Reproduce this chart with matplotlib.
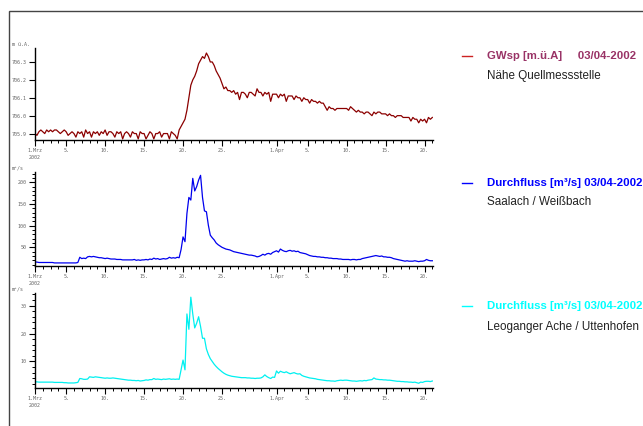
import numpy as np
import pandas as pd
import matplotlib
matplotlib.use('Agg')
import matplotlib.pyplot as plt
import matplotlib.dates as mdates
from matplotlib.ticker import FixedLocator, MultipleLocator
from matplotlib.patches import Rectangle

# 6-hourly values, 1 Mar 2002 00:00 .. 21 Apr 2002 00:00
times = pd.date_range('2002-03-01', periods=205, freq='6h')

# GWsp [m ü.A.], Nähe Quellmessstelle
gwsp = [
    705.90, 705.89, 705.91, 705.92,  705.91, 705.90, 705.92, 705.91,
    705.92, 705.91, 705.92, 705.92,  705.91, 705.90, 705.91, 705.92,
    705.91, 705.89, 705.90, 705.91,  705.90, 705.88, 705.91, 705.90,
    705.91, 705.88, 705.92, 705.90,  705.91, 705.88, 705.91, 705.90,
    705.91, 705.89, 705.91, 705.90,  705.92, 705.89, 705.91, 705.91,
    705.90, 705.88, 705.91, 705.90,  705.91, 705.87, 705.90, 705.91,
    705.90, 705.88, 705.91, 705.90,  705.90, 705.87, 705.91, 705.90,
    705.90, 705.87, 705.89, 705.91,  705.90, 705.87, 705.90, 705.90,
    705.91, 705.88, 705.90, 705.90,  705.90, 705.87, 705.91, 705.90,
    705.89, 705.87, 705.92, 705.94,  705.96, 705.98, 706.03, 706.10,
    706.17, 706.20, 706.22, 706.25,  706.29, 706.31, 706.33, 706.32,
    706.35, 706.33, 706.30, 706.30,  706.28, 706.25, 706.23, 706.21,
    706.18, 706.15, 706.16, 706.14,  706.14, 706.13, 706.14, 706.12,
    706.13, 706.09, 706.13, 706.13,  706.12, 706.10, 706.13, 706.13,
    706.12, 706.11, 706.15, 706.13,  706.13, 706.11, 706.13, 706.12,
    706.13, 706.08, 706.12, 706.12,  706.12, 706.10, 706.12, 706.11,
    706.12, 706.08, 706.11, 706.11,  706.11, 706.09, 706.11, 706.10,
    706.10, 706.08, 706.10, 706.09,  706.09, 706.07, 706.09, 706.08,
    706.08, 706.07, 706.08, 706.07,  706.07, 706.05, 706.03, 706.05,
    706.04, 706.04, 706.03, 706.04,  706.04, 706.04, 706.04, 706.04,
    706.04, 706.03, 706.05, 706.04,  706.03, 706.02, 706.03, 706.02,
    706.02, 706.01, 706.02, 706.02,  706.01, 706.00, 706.02, 706.01,
    706.02, 706.02, 706.01, 706.01,  706.01, 706.00, 706.01, 706.00,
    706.00, 705.99, 706.00, 706.00,  706.00, 705.99, 705.99, 705.99,
    705.99, 705.97, 705.99, 705.98,  705.98, 705.96, 705.98, 705.97,
    705.98, 705.96, 705.99, 705.98,  705.99,
]

# Durchfluss [m3/s], Saalach / Weißbach
q_saalach = [
    16, 16, 15, 15,  15, 15, 15, 15,  15, 15, 14, 14,  14, 14, 14, 14,
    14, 14, 14, 14,  14, 14, 15, 27,  24, 25, 24, 28,  29, 28, 29, 28,
    27, 26, 26, 25,  24, 25, 24, 23,  23, 23, 22, 22,  22, 21, 21, 21,
    21, 21, 21, 22,  20, 21, 20, 21,  21, 22, 21, 23,  22, 25, 23, 24,
    22, 23, 24, 23,  24, 27, 25, 26,  25, 27, 26, 45,  74, 63, 128, 165,
    159, 209, 180, 190,  205, 216, 165, 134,  132, 101, 78, 72,
    67, 60, 56, 53,  50, 48, 46, 45,  44, 42, 40, 39,  38, 37, 36, 35,
    34, 33, 32, 32,  31, 30, 28, 29,  31, 34, 32, 35,  36, 34, 38, 40,
    42, 39, 46, 43,  41, 40, 42, 43,  41, 42, 40, 41,  38, 37, 36, 35,
    33, 31, 30, 29,  29, 28, 28, 27,  27, 26, 26, 25,  25, 24, 24, 24,
    23, 23, 22, 22,  22, 22, 21, 22,  22, 21, 22, 22,  24, 25, 26, 27,
    28, 29, 30, 31,  30, 29, 30, 28,  28, 27, 27, 26,  24, 23, 22, 21,
    20, 19, 18, 19,  18, 18, 18, 19,  18, 17, 18, 18,  19, 22, 20, 19,
    19,
]

# Durchfluss [m3/s], Leoganger Ache / Uttenhofen
q_leogang = [
    2.7, 2.7, 2.6, 2.6,  2.6, 2.6, 2.6, 2.6,  2.6, 2.6, 2.5, 2.5,
    2.5, 2.5, 2.5, 2.4,  2.4, 2.3, 2.3, 2.3,  2.3, 2.4, 2.5, 3.9,
    3.8, 3.6, 3.6, 3.7,  4.5, 4.4, 4.3, 4.5,  4.4, 4.3, 4.2, 4.1,
    4.0, 4.1, 4.0, 4.0,  4.1, 4.0, 3.9, 3.8,  3.7, 3.6, 3.5, 3.4,
    3.3, 3.3, 3.2, 3.2,  3.1, 3.2, 3.0, 3.1,  3.2, 3.4, 3.3, 3.5,
    3.5, 3.9, 3.6, 3.7,  3.6, 3.5, 3.7, 3.6,  3.7, 3.8, 3.6, 3.7,
    3.6, 3.7, 3.6, 7.0,  10.5, 7.0, 27.0, 21.5,  33.0, 27.0, 22.0, 23.7,
    26.0, 22.5, 18.3, 18.3,  14.5, 12.5, 11.0, 10.0,  9.0, 8.2, 7.5, 6.9,
    6.3, 5.8, 5.4, 5.1,  4.9, 4.7, 4.6, 4.5,  4.4, 4.3, 4.2, 4.2,
    4.2, 4.1, 4.1, 4.0,  4.0, 3.9, 4.0, 4.0,  4.1, 4.5, 5.2, 4.6,
    4.2, 3.9, 4.4, 4.3,  6.6, 5.8, 6.5, 6.2,  6.0, 6.3, 5.9, 5.6,
    5.8, 6.0, 5.7, 5.5,  5.6, 5.0, 4.7, 4.5,  4.3, 4.1, 4.0, 3.9,
    3.8, 3.6, 3.5, 3.4,  3.3, 3.2, 3.1, 3.1,  3.0, 3.0, 2.9, 3.1,
    3.2, 3.3, 3.2, 3.3,  3.3, 3.2, 3.1, 3.0,  3.0, 2.9, 3.0, 3.1,
    3.0, 3.2, 3.1, 3.3,  3.4, 3.5, 4.1, 3.7,  3.6, 3.5, 3.5, 3.4,
    3.4, 3.3, 3.3, 3.2,  3.1, 3.0, 2.9, 2.9,  2.8, 2.8, 2.7, 2.7,
    2.6, 2.6, 2.5, 2.6,  2.4, 2.2, 2.6, 2.5,  2.8, 2.9, 2.9, 2.8,
    3.0,
]

tick_dates = pd.to_datetime(['2002-03-01', '2002-03-05', '2002-03-10', '2002-03-15',
                             '2002-03-20', '2002-03-25', '2002-04-01', '2002-04-05',
                             '2002-04-10', '2002-04-15', '2002-04-20'])
tick_labels = ['1.Mrz\n2002', '5.', '10.', '15.', '20.', '25.', '1.Apr',
               '5.', '10.', '15.', '20.']

series = [gwsp, q_saalach, q_leogang]
units = ['m \u00fc.A.', 'm\u00b3/s', 'm\u00b3/s']
titles = ['GWsp [m.\u00fc.A]     03/04-2002',
          'Durchfluss [m\u00b3/s] 03/04-2002',
          'Durchfluss [m\u00b3/s] 03/04-2002']
subtitles = ['N\u00e4he Quellmessstelle', 'Saalach / Wei\u00dfbach',
             'Leoganger Ache / Uttenhofen']
line_colors = ['#8b0000', '#0000ee', '#00f0f0']
title_colors = ['#993366', '#0000ff', '#00ffff']
ylims = [(705.864, 706.378), (6.9, 223.7), (0.5, 34.5)]
yticks = [[705.9, 706.0, 706.1, 706.2, 706.3], [50, 100, 150, 200], [10, 20, 30]]
yticklabels = [['705.9', '706.0', '706.1', '706.2', '706.3'],
               ['50', '100', '150', '200'], ['10', '20', '30']]
yminor = [None, 10, 2]

W, H = 643, 426
fig = plt.figure(figsize=(W / 100, H / 100), dpi=100)

# page frame (cut off at right and bottom)
fig.add_artist(Rectangle((9 / W, -0.1), 1.2, 1.1 - 11 / H, transform=fig.transFigure,
                         fill=False, edgecolor='#444444', linewidth=1.0))

# axes boxes in pixels: (top, bottom)
boxes = [(48, 140), (172, 266), (293, 388)]
legend_y = [(56, 76), (183, 202), (306, 327)]
x0, x1 = 35, 433
tick_font = dict(family='DejaVu Sans Mono', size=3.6, color='#666666')

for i, (top, bot) in enumerate(boxes):
    ax = fig.add_axes([x0 / W, 1 - bot / H, (x1 - x0) / W, (bot - top) / H])
    ax.plot(times, series[i], color=line_colors[i], lw=0.9)
    ax.set_xlim(pd.Timestamp('2002-03-01'), pd.Timestamp('2002-04-21 02:00'))
    ax.set_ylim(*ylims[i])
    for s in ['top', 'right']:
        ax.spines[s].set_visible(False)
    for s in ['left', 'bottom']:
        ax.spines[s].set_linewidth(1.0)
        ax.spines[s].set_color('black')
    ax.xaxis.set_major_locator(FixedLocator(mdates.date2num(tick_dates)))
    ax.set_xticklabels(tick_labels, fontdict=tick_font, linespacing=1.3)
    ax.xaxis.set_minor_locator(mdates.DayLocator())
    ax.set_yticks(yticks[i])
    ax.set_yticklabels(yticklabels[i], fontdict=tick_font)
    if yminor[i]:
        ax.yaxis.set_minor_locator(MultipleLocator(yminor[i]))
    ax.tick_params(axis='both', which='major', direction='out', length=4,
                   width=0.8, pad=2)
    ax.tick_params(axis='both', which='minor', direction='out', length=2.5,
                   width=0.7)
    ax.patch.set_alpha(0)
    # unit label above the y axis
    fig.text(12 / W, 1 - (top - 4) / H, units[i], ha='left', va='center',
             **tick_font)
    # legend block at the right
    ty, sy = legend_y[i]
    fig.add_artist(plt.Line2D([462 / W, 472 / W], [1 - ty / H, 1 - ty / H],
                              color=title_colors[i] if i else '#cc2222', lw=1.0))
    fig.text(487 / W, 1 - ty / H, titles[i], ha='left', va='center',
             family='Liberation Sans', fontweight='bold', size=8.2,
             color=title_colors[i])
    fig.text(487 / W, 1 - sy / H, subtitles[i], ha='left', va='center',
             family='Liberation Sans', size=8.4, color='#222222')

fig.savefig('out.png', dpi=100)
